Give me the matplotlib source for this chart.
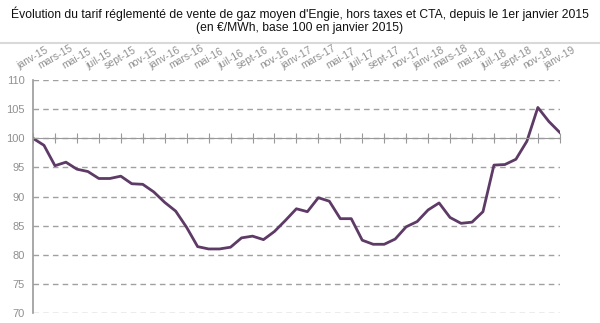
import matplotlib
matplotlib.use("Agg")
import matplotlib.pyplot as plt
from matplotlib.lines import Line2D

plt.rcParams['font.family'] = ['Liberation Sans Narrow', 'Liberation Sans', 'DejaVu Sans']

# Tarif moyen Engie, base 100 en janvier 2015 (mensuel, janv-15 -> janv-19)
tarif = [100, 98.8, 95.3, 95.9, 94.7, 94.3, 93.1, 93.1, 93.5, 92.2, 92.1, 90.8,
         89.0, 87.5, 84.7, 81.4, 81.0, 81.0, 81.3, 82.9, 83.2, 82.6, 84.0, 85.9,
         87.9, 87.4, 89.8, 89.2, 86.2, 86.2, 82.5, 81.8, 81.8, 82.7, 84.8, 85.7,
         87.7, 88.9, 86.4, 85.4, 85.6, 87.4, 95.4, 95.5, 96.4, 99.5, 105.3, 102.9,
         101.0]

mois = ["janv", "mars", "mai", "juil", "sept", "nov"]
annees = ["15", "16", "17", "18"]
labels = [m + "-" + a for a in annees for m in mois] + ["janv-19"]

fig = plt.figure(figsize=(6, 3.23), dpi=100)
ax = fig.add_axes([0.055, 0.031, 0.878, 0.721])

ax.plot(range(len(tarif)), tarif, color="#5e3a66", lw=2)

ax.set_xlim(0, 48)
ax.set_ylim(70, 110)
ax.set_yticks(range(70, 111, 5))
ax.set_xticks(range(0, 49, 2))
ax.set_xticklabels(labels)

ax.grid(axis="y", color="#a0a0a0", ls=(0, (4, 3)), lw=1)
ax.set_axisbelow(True)

for s in ["top", "right"]:
    ax.spines[s].set_visible(False)
ax.spines["bottom"].set_position(("data", 100))
ax.spines["bottom"].set_color("#999999")
ax.spines["left"].set_color("#999999")
ax.spines["left"].set_linewidth(1.2)

ax.tick_params(axis="x", top=False, labeltop=True, bottom=True, labelbottom=False,
               direction="inout", length=7, color="#999999", labelsize=7.5,
               labelcolor="#909090", pad=3)
ax.tick_params(axis="y", length=0, labelsize=8, labelcolor="#909090", pad=6)
for t in ax.get_xticklabels():
    t.set_rotation(30)
    t.set_ha("center")

fig.text(0.5, 0.957, "Évolution du tarif réglementé de vente de gaz moyen d'Engie, hors taxes et CTA, depuis le 1er janvier 2015",
         ha="center", va="center", fontsize=8.7, color="#111111")
fig.text(0.5, 0.913, "(en €/MWh, base 100 en janvier 2015)", ha="center", va="center",
         fontsize=8.7, color="#111111")
fig.add_artist(Line2D([0.0, 1.0], [0.867, 0.867], transform=fig.transFigure,
                      color="#d9d9d9", lw=1.5))

fig.savefig("out.png", dpi=100)
